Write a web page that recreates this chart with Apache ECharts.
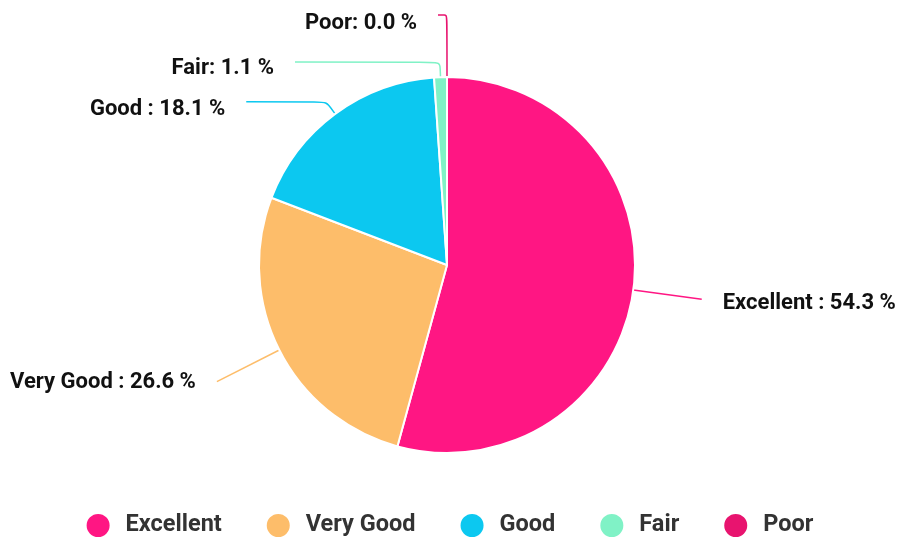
<!DOCTYPE html>
<html><head><meta charset="utf-8">
<script src="https://cdn.jsdelivr.net/npm/echarts@6/dist/echarts.min.js"></script>
<style>html,body{margin:0;padding:0;background:#fff}#c{width:898px;height:540px}</style>
</head><body><div id="c"></div>
<script>
const categories = ['Excellent', 'Very Good', 'Good', 'Fair', 'Poor'];
const values = [54.3, 26.6, 18.1, 1.1, 0.0];
const labelTexts = ['Excellent : 54.3 %', 'Very Good : 26.6 %', 'Good : 18.1 %', 'Fair: 1.1 %', 'Poor: 0.0 %'];
const colors = ['#FF1683', '#FDBD6A', '#0CC8F0', '#80F2C6', '#E8146F'];
// connector line lengths and label offsets per slice (style)
const lineLen = [69, 70, 15, 15, 62];
const lineLen2 = [0, 0, 80, 145, 9];
const labelDy = [4, 1, 8, 6, 8];

const chart = echarts.init(document.getElementById('c'));
chart.setOption({
  animation: false,
  color: colors,
  legend: {
    bottom: 1,
    left: 'center',
    padding: 0,
    icon: 'circle',
    itemWidth: 25,
    itemHeight: 25,
    itemGap: 43,
    textStyle: { fontFamily: 'Roboto', fontSize: 23.5, fontWeight: 'bold', color: '#333', padding: [0, 0, 0, 10] },
    data: categories
  },
  series: [{
    type: 'pie',
    center: [447, 265],
    radius: 188,
    startAngle: 90,
    avoidLabelOverlap: false,
    itemStyle: { borderColor: '#fff', borderWidth: 2 },
    label: {
      show: true,
      fontFamily: 'Roboto',
      fontSize: 22,
      fontWeight: 'bold',
      color: '#111',
      distanceToLabelLine: 21,
      formatter: p => labelTexts[p.dataIndex]
    },
    labelLine: { show: true, smooth: 0.2, lineStyle: { width: 1.5 } },
    labelLayout: p => ({ dy: labelDy[p.dataIndex], labelLinePoints: p.labelLinePoints }),
    data: categories.map((n, i) => ({
      name: n,
      value: values[i],
      labelLine: { length: lineLen[i], length2: lineLen2[i] }
    }))
  }]
});
</script></body></html>
